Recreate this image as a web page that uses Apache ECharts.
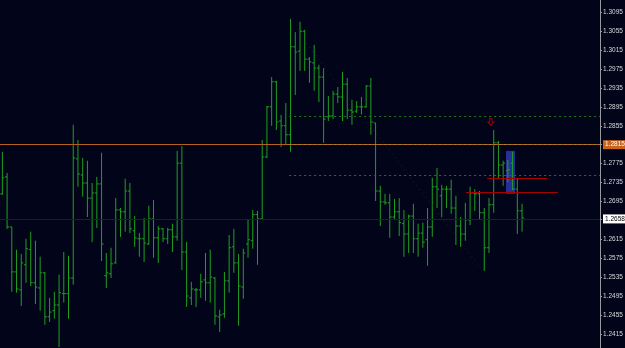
<!DOCTYPE html>
<html><head><meta charset="utf-8">
<script src="https://cdn.jsdelivr.net/npm/echarts@6/dist/echarts.min.js"></script>
<style>html,body{margin:0;padding:0;background:#02041a}#c{width:625px;height:348px}</style>
</head><body><div id="c"></div>
<script>
// OHLC values (bar 1 .. bar 111)
const opens = [1.2711,1.2747,1.2641,1.2546,1.2508,1.2561,1.2593,1.2523,1.2512,1.2544,
1.2451,1.2464,1.2476,1.2500,1.2500,1.2533,1.2785,1.2751,1.2734,1.2702,
1.2713,1.2732,1.2538,1.2542,1.2565,1.2677,1.2673,1.2717,1.2633,1.2616,
1.2616,1.2605,1.2658,1.2618,1.2637,1.2616,1.2635,1.2620,1.2776,1.2588,
1.2491,1.2508,1.2508,1.2529,1.2523,1.2533,1.2451,1.2457,1.2527,1.2599,
1.2565,1.2514,1.2605,1.2612,1.2667,1.2658,1.2789,1.2895,1.2948,1.2865,
1.2855,1.2836,1.3022,1.3013,1.3055,1.2996,1.2988,1.2977,1.2958,1.2874,
1.2876,1.2922,1.2916,1.2943,1.2888,1.2886,1.2895,1.2895,1.2939,1.2861,
1.2717,1.2694,1.2692,1.2662,1.2673,1.2648,1.2626,1.2664,1.2616,1.2628,
1.2614,1.2641,1.2726,1.2707,1.2721,1.2721,1.2681,1.2643,1.2626,1.2656,
1.2713,1.2711,1.2671,1.2597,1.2688,1.2819,1.2772,1.2760,1.2776,1.2721,
1.2675];
const highs = [1.2800,1.2755,1.2641,1.2593,1.2584,1.2616,1.2631,1.2612,1.2578,1.2546,
1.2491,1.2504,1.2540,1.2588,1.2580,1.2857,1.2825,1.2787,1.2781,1.2734,
1.2747,1.2798,1.2586,1.2597,1.2702,1.2681,1.2743,1.2734,1.2664,1.2628,
1.2660,1.2686,1.2698,1.2643,1.2639,1.2639,1.2648,1.2802,1.2812,1.2609,
1.2525,1.2512,1.2542,1.2586,1.2593,1.2535,1.2466,1.2546,1.2624,1.2637,
1.2584,1.2595,1.2656,1.2677,1.2675,1.2825,1.2897,1.2958,1.2950,1.2878,
1.2903,1.3081,1.3053,1.3075,1.3058,1.3000,1.3026,1.2984,1.2977,1.2918,
1.2929,1.2937,1.2969,1.2956,1.2910,1.2907,1.2916,1.2941,1.2956,1.2861,
1.2728,1.2711,1.2711,1.2700,1.2702,1.2677,1.2667,1.2690,1.2648,1.2650,
1.2681,1.2745,1.2766,1.2730,1.2728,1.2741,1.2707,1.2662,1.2692,1.2726,
1.2721,1.2717,1.2681,1.2702,1.2846,1.2823,1.2781,1.2783,1.2800,1.2745,
1.2690];
const lows = [1.2709,1.2637,1.2504,1.2502,1.2474,1.2523,1.2516,1.2478,1.2464,1.2434,
1.2440,1.2447,1.2387,1.2481,1.2447,1.2519,1.2726,1.2705,1.2662,1.2609,
1.2639,1.2569,1.2512,1.2533,1.2563,1.2620,1.2631,1.2628,1.2599,1.2578,
1.2567,1.2603,1.2576,1.2565,1.2609,1.2605,1.2588,1.2612,1.2550,1.2472,
1.2476,1.2472,1.2491,1.2485,1.2481,1.2434,1.2419,1.2449,1.2502,1.2544,
1.2432,1.2489,1.2576,1.2595,1.2561,1.2656,1.2787,1.2855,1.2846,1.2810,
1.2815,1.2800,1.2920,1.2971,1.2971,1.2946,1.2929,1.2905,1.2819,1.2865,
1.2869,1.2903,1.2865,1.2869,1.2857,1.2882,1.2878,1.2893,1.2836,1.2696,
1.2643,1.2688,1.2618,1.2656,1.2622,1.2578,1.2586,1.2586,1.2578,1.2597,
1.2559,1.2620,1.2681,1.2662,1.2681,1.2669,1.2603,1.2599,1.2612,1.2645,
1.2675,1.2658,1.2548,1.2586,1.2671,1.2743,1.2728,1.2736,1.2719,1.2626,
1.2631];
const closes = [1.2745,1.2641,1.2546,1.2510,1.2565,1.2595,1.2523,1.2514,1.2544,1.2451,
1.2461,1.2476,1.2502,1.2500,1.2533,1.2787,1.2753,1.2734,1.2702,1.2713,
1.2732,1.2605,1.2544,1.2563,1.2677,1.2673,1.2717,1.2637,1.2618,1.2616,
1.2607,1.2658,1.2618,1.2637,1.2616,1.2635,1.2620,1.2776,1.2588,1.2495,
1.2510,1.2508,1.2525,1.2523,1.2535,1.2453,1.2455,1.2527,1.2597,1.2565,
1.2516,1.2586,1.2614,1.2667,1.2658,1.2789,1.2895,1.2948,1.2863,1.2855,
1.2836,1.3022,1.3011,1.3055,1.2996,1.2990,1.2977,1.2958,1.2869,1.2876,
1.2922,1.2916,1.2943,1.2888,1.2884,1.2895,1.2895,1.2939,1.2863,1.2717,
1.2694,1.2692,1.2662,1.2673,1.2650,1.2626,1.2664,1.2616,1.2628,1.2609,
1.2641,1.2726,1.2721,1.2721,1.2721,1.2681,1.2643,1.2626,1.2656,1.2713,
1.2711,1.2671,1.2597,1.2688,1.2819,1.2772,1.2776,1.2762,1.2721,1.2675,
1.2660];

// price scale labels
const tickLabels = [1.3095,1.3055,1.3015,1.2975,1.2935,1.2895,1.2855,1.2815,1.2775,1.2735,1.2695,1.2658,1.2615,1.2575,1.2535,1.2495,1.2455,1.2415];
const markedPrice = 1.2815;   // orange line
const currentPrice = 1.2658;  // bid line
const dottedLevels = [1.2876, 1.2815, 1.2751];
const redLevels = [[1.2745, 102.6, 115.3], [1.2715, 98.1, 117.6]];
const blueBox = [106.6, 1.2802, 108.5, 1.2711];
const arrowPoint = [103.4, 1.2863];
const trendLine = [[64.3, 1.3030], [100.7, 1.2561]];
const slots = 127;

const ohlc = opens.map((o, i) => [i, o, highs[i], lows[i], closes[i]]);
const fmt = v => v.toFixed(4);
const FONT = '"Liberation Sans", Arial, sans-serif';

const chart = echarts.init(document.getElementById('c'), null, {renderer: 'canvas'});
const GREEN = '#1fa01f';
const L = -0.5, R = slots - 0.5;
chart.setOption({
  backgroundColor: '#02041a',
  animation: false,
  grid: {left: 0, right: 25, top: 0, bottom: 0, outerBoundsMode: 'none', containLabel: false},
  xAxis: {type: 'value', min: L, max: R, show: false, axisLine: {show: false}, axisTick: {show: false}, axisLabel: {show: false}, splitLine: {show: false}},
  yAxis: {
    type: 'value', position: 'right', min: 1.2385, max: 1.3121,
    splitLine: {show: false},
    axisLine: {show: true, onZero: false, lineStyle: {color: '#9a9a9a', width: 1}},
    axisTick: {show: true, length: 2, customValues: tickLabels, lineStyle: {color: '#9a9a9a'}},
    axisLabel: {
      customValues: tickLabels, margin: 3, color: '#d8d8d8',
      fontFamily: FONT, fontSize: 6.5,
      formatter: v => {
        if (Math.abs(v - markedPrice) < 1e-6) return '{o|' + fmt(v) + '}';
        if (Math.abs(v - currentPrice) < 1e-6) return '{w|' + fmt(v) + '}';
        return fmt(v);
      },
      rich: {
        o: {backgroundColor: '#c8641e', color: '#ffffff', padding: [1, 1, 1, 2], fontFamily: FONT, fontSize: 6.5},
        w: {backgroundColor: '#ffffff', color: '#000000', padding: [1, 1, 1, 2], fontFamily: FONT, fontSize: 6.5}
      }
    }
  },
  series: [
    {
      type: 'custom', z: 1, silent: true, data: [[0]],
      renderItem: () => ({type: 'group', children: []}),
      markArea: {silent: true, itemStyle: {color: 'rgba(48,60,190,0.78)'},
        data: [[{coord: [blueBox[0], blueBox[1]]}, {coord: [blueBox[2], blueBox[3]]}]]},
      markLine: {
        silent: true, symbol: 'none', label: {show: false},
        lineStyle: {color: '#1c7a1c', type: [2, 3], width: 1},
        data: [
          [{coord: [L, markedPrice], lineStyle: {color: '#b4601e', width: 1, type: 'solid'}}, {coord: [R, markedPrice]}],
          [{coord: [L, currentPrice], lineStyle: {color: '#22200e', width: 1, type: 'solid'}}, {coord: [R, currentPrice]}],
          [{coord: [60.7, dottedLevels[0]]}, {coord: [R, dottedLevels[0]]}],
          [{coord: [60.7, dottedLevels[1]], lineStyle: {color: '#9a8a30', type: [2, 3], width: 1}}, {coord: [R, dottedLevels[1]]}],
          [{coord: [60.7, dottedLevels[2]]}, {coord: [R, dottedLevels[2]]}],
          [{coord: trendLine[0], lineStyle: {color: '#3e1a1a', type: [1, 4], width: 1}}, {coord: trendLine[1]}],
          ...redLevels.map(r => [{coord: [r[1], r[0]], lineStyle: {color: '#a80000', type: 'solid', width: 1}}, {coord: [r[2], r[0]]}])
        ]
      }
    },
    {
      type: 'custom', z: 3, data: ohlc,
      renderItem: (params, api) => {
        const x = api.value(0);
        const o = api.coord([x, api.value(1)]);
        const h = api.coord([x, api.value(2)]);
        const l = api.coord([x, api.value(3)]);
        const c = api.coord([x, api.value(4)]);
        const w = 2;
        const st = {stroke: GREEN, lineWidth: 1};
        return {type: 'group', children: [
          {type: 'line', shape: {x1: h[0], y1: h[1], x2: l[0], y2: l[1]}, style: st},
          {type: 'line', shape: {x1: o[0] - w, y1: o[1], x2: o[0], y2: o[1]}, style: st},
          {type: 'line', shape: {x1: c[0], y1: c[1], x2: c[0] + w, y2: c[1]}, style: st}
        ]};
      }
    },
    {
      type: 'scatter', z: 4, silent: true,
      data: [arrowPoint],
      symbol: 'path://M3,0 L7,0 L7,5 L10,5 L5,10 L0,5 L3,5 Z',
      symbolSize: [6, 7],
      itemStyle: {color: 'rgba(0,0,0,0)', borderColor: '#c00000', borderWidth: 1}
    }
  ]
});
</script></body></html>
